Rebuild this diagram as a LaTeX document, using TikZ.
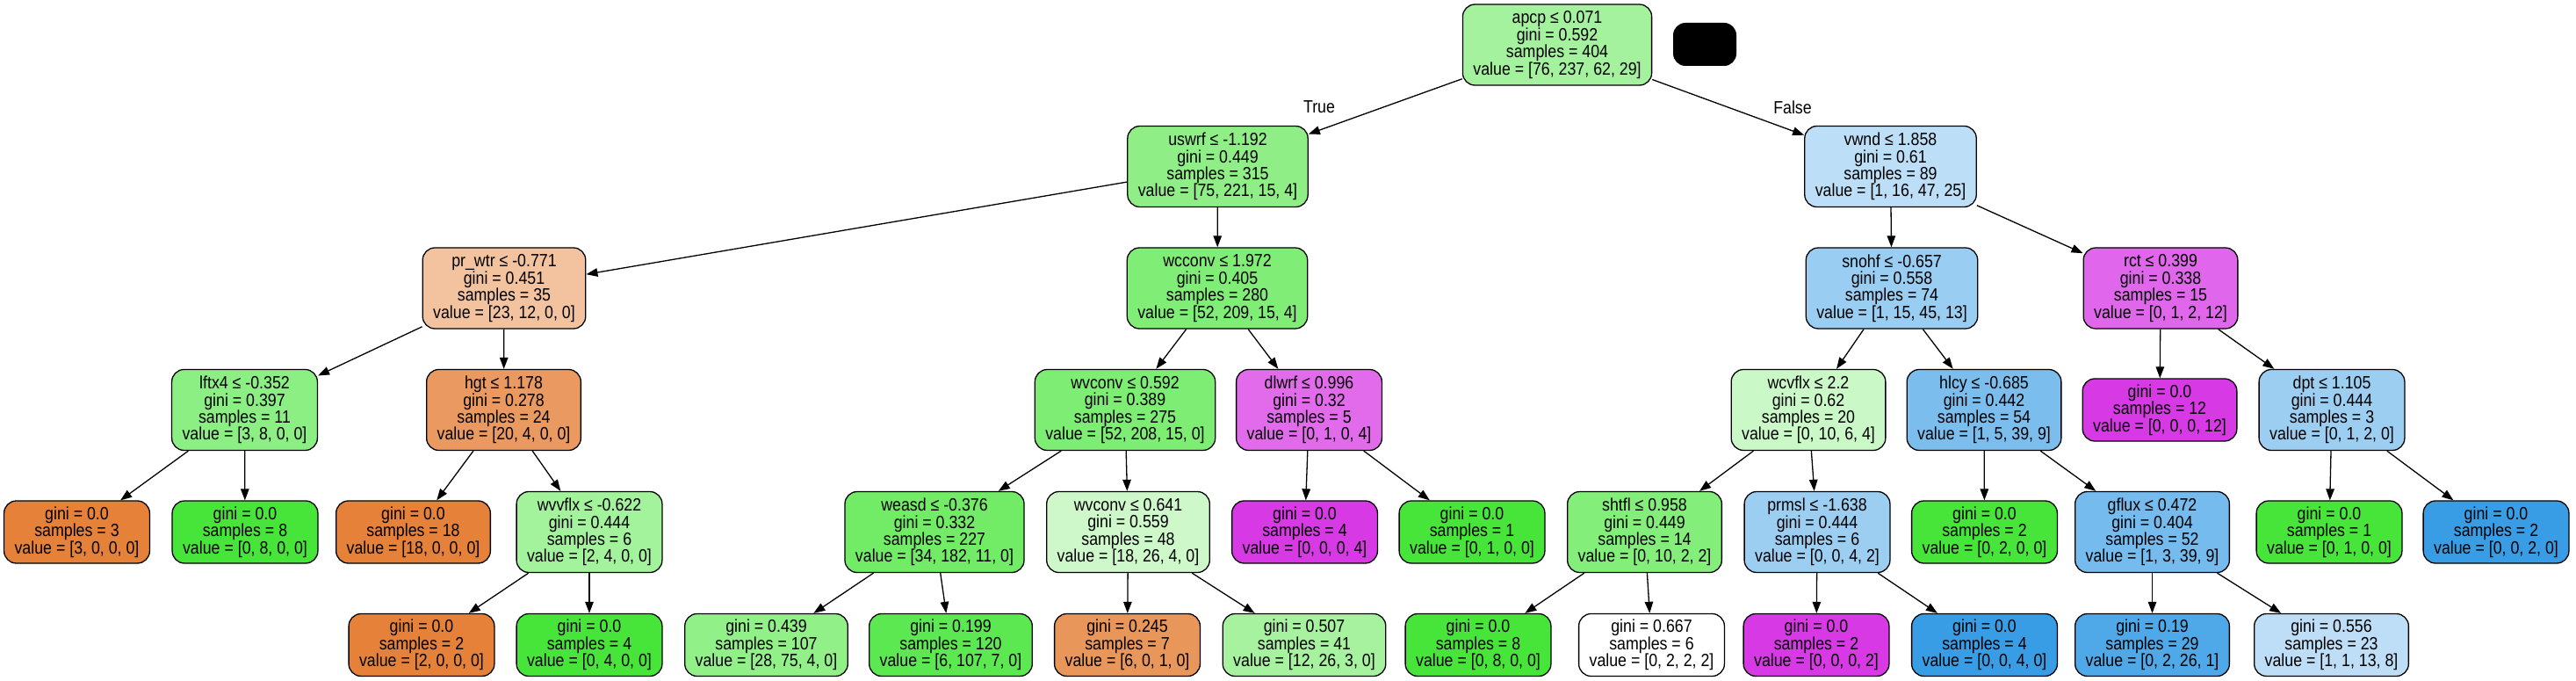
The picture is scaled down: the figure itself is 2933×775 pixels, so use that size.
\documentclass[tikz,border=0pt]{standalone}
\usepackage{fontspec}
\setmainfont{Liberation Sans}[FakeStretch=0.88]
\usetikzlibrary{arrows.meta}
\definecolor{cO}{RGB}{229,129,57}
\definecolor{cG}{RGB}{71,229,57}
\definecolor{cB}{RGB}{57,157,229}
\definecolor{cM}{RGB}{215,57,229}
\tikzset{
  tnode/.style={draw=black, line width=1.3pt, rounded corners=14pt, align=center,
    inner xsep=12pt, inner ysep=0pt, font=\fontsize{20.2}{19.4}\selectfont},
  four/.style={tnode, minimum height=92pt},
  three/.style={tnode, minimum height=71pt},
  edge/.style={line width=1.3pt, -{Triangle[length=13pt,width=9.5pt]}},
  elabel/.style={font=\fontsize{20.2}{19.4}\selectfont, inner sep=0pt},
}
\begin{document}
\begin{tikzpicture}[x=1pt,y=-1pt]
\useasboundingbox (0,0) rectangle (2933,775);
\fill[white] (0,0) rectangle (2933,775);
% level 0
\node[four, fill=cG!49] (n0) at (1773,51) {apcp ≤ 0.071\\gini = 0.592\\samples = 404\\value = [76, 237, 62, 29]};
\node[fill=black, rounded corners=14pt, minimum width=72pt, minimum height=49pt, inner sep=0pt] (legend) at (1941,50.5) {};
% level 1
\node[four, fill=cG!61] (n1) at (1386.5,189.5) {uswrf ≤ -1.192\\gini = 0.449\\samples = 315\\value = [75, 221, 15, 4]};
\node[four, fill=cB!34] (n2) at (2152.5,189.5) {vwnd ≤ 1.858\\gini = 0.61\\samples = 89\\value = [1, 16, 47, 25]};
% level 2
\node[four, fill=cO!48] (n3) at (574,328) {pr\_wtr ≤ -0.771\\gini = 0.451\\samples = 35\\value = [23, 12, 0, 0]};
\node[four, fill=cG!69] (n4) at (1386,328) {wcconv ≤ 1.972\\gini = 0.405\\samples = 280\\value = [52, 209, 15, 4]};
\node[four, fill=cB!51] (n5) at (2154,328) {snohf ≤ -0.657\\gini = 0.558\\samples = 74\\value = [1, 15, 45, 13]};
\node[four, fill=cM!77] (n6) at (2460,328) {rct ≤ 0.399\\gini = 0.338\\samples = 15\\value = [0, 1, 2, 12]};
% level 3
\node[four, fill=cG!62.5] (n7) at (278.5,466.5) {lftx4 ≤ -0.352\\gini = 0.397\\samples = 11\\value = [3, 8, 0, 0]};
\node[four, fill=cO!80] (n8) at (573.5,466.5) {hgt ≤ 1.178\\gini = 0.278\\samples = 24\\value = [20, 4, 0, 0]};
\node[four, fill=cG!70] (n9) at (1281,466.5) {wvconv ≤ 0.592\\gini = 0.389\\samples = 275\\value = [52, 208, 15, 0]};
\node[four, fill=cM!75] (n10) at (1490.5,466.5) {dlwrf ≤ 0.996\\gini = 0.32\\samples = 5\\value = [0, 1, 0, 4]};
\node[four, fill=cG!28.6] (n11) at (2059,466.5) {wcvflx ≤ 2.2\\gini = 0.62\\samples = 20\\value = [0, 10, 6, 4]};
\node[four, fill=cB!66.7] (n12) at (2259,466.5) {hlcy ≤ -0.685\\gini = 0.442\\samples = 54\\value = [1, 5, 39, 9]};
\node[three, fill=cM] (n13) at (2459,466.5) {gini = 0.0\\samples = 12\\value = [0, 0, 0, 12]};
\node[four, fill=cB!50] (n14) at (2655,466.5) {dpt ≤ 1.105\\gini = 0.444\\samples = 3\\value = [0, 1, 2, 0]};
% level 4
\node[three, fill=cO] (n15) at (87.5,605.5) {gini = 0.0\\samples = 3\\value = [3, 0, 0, 0]};
\node[three, fill=cG] (n16) at (279,605.5) {gini = 0.0\\samples = 8\\value = [0, 8, 0, 0]};
\node[three, fill=cO] (n17) at (470.5,605.5) {gini = 0.0\\samples = 18\\value = [18, 0, 0, 0]};
\node[four, fill=cG!50] (n18) at (671,605.5) {wvvflx ≤ -0.622\\gini = 0.444\\samples = 6\\value = [2, 4, 0, 0]};
\node[four, fill=cG!76.7] (n19) at (1064,605.5) {weasd ≤ -0.376\\gini = 0.332\\samples = 227\\value = [34, 182, 11, 0]};
\node[four, fill=cG!26.7] (n20) at (1284.5,605.5) {wvconv ≤ 0.641\\gini = 0.559\\samples = 48\\value = [18, 26, 4, 0]};
\node[three, fill=cM] (n21) at (1485.5,605.5) {gini = 0.0\\samples = 4\\value = [0, 0, 0, 4]};
\node[three, fill=cG] (n22) at (1676,605.5) {gini = 0.0\\samples = 1\\value = [0, 1, 0, 0]};
\node[four, fill=cG!66.7] (n23) at (1872.5,605.5) {shtfl ≤ 0.958\\gini = 0.449\\samples = 14\\value = [0, 10, 2, 2]};
\node[four, fill=cB!50] (n24) at (2069,605.5) {prmsl ≤ -1.638\\gini = 0.444\\samples = 6\\value = [0, 0, 4, 2]};
\node[three, fill=cG] (n25) at (2259.5,605.5) {gini = 0.0\\samples = 2\\value = [0, 2, 0, 0]};
\node[four, fill=cB!69.8] (n26) at (2450.5,605.5) {gflux ≤ 0.472\\gini = 0.404\\samples = 52\\value = [1, 3, 39, 9]};
\node[three, fill=cG] (n27) at (2652,605.5) {gini = 0.0\\samples = 1\\value = [0, 1, 0, 0]};
\node[three, fill=cB] (n28) at (2842,605.5) {gini = 0.0\\samples = 2\\value = [0, 0, 2, 0]};
% level 5
\node[three, fill=cO] (n29) at (480,734) {gini = 0.0\\samples = 2\\value = [2, 0, 0, 0]};
\node[three, fill=cG] (n30) at (671,734) {gini = 0.0\\samples = 4\\value = [0, 4, 0, 0]};
\node[three, fill=cG!59.5] (n31) at (872.5,734) {gini = 0.439\\samples = 107\\value = [28, 75, 4, 0]};
\node[three, fill=cG!88.5] (n32) at (1082.5,734) {gini = 0.199\\samples = 120\\value = [6, 107, 7, 0]};
\node[three, fill=cO!83.3] (n33) at (1283.5,734) {gini = 0.245\\samples = 7\\value = [6, 0, 1, 0]};
\node[three, fill=cG!48.3] (n34) at (1485,734) {gini = 0.507\\samples = 41\\value = [12, 26, 3, 0]};
\node[three, fill=cG] (n35) at (1683,734) {gini = 0.0\\samples = 8\\value = [0, 8, 0, 0]};
\node[three, fill=white] (n36) at (1880.5,734) {gini = 0.667\\samples = 6\\value = [0, 2, 2, 2]};
\node[three, fill=cM] (n37) at (2068,734) {gini = 0.0\\samples = 2\\value = [0, 0, 0, 2]};
\node[three, fill=cB] (n38) at (2259.5,734) {gini = 0.0\\samples = 4\\value = [0, 0, 4, 0]};
\node[three, fill=cB!88.9] (n39) at (2450.5,734) {gini = 0.19\\samples = 29\\value = [0, 2, 26, 1]};
\node[three, fill=cB!33.3] (n40) at (2654.5,734) {gini = 0.556\\samples = 23\\value = [1, 1, 13, 8]};
% edges
\draw[edge] (n0) -- (n1);
\draw[edge] (n0) -- (n2);
\node[elabel] (ltrue) at (1502,122) {True};
\node[elabel] (lfalse) at (2041,122) {False};
\foreach \p/\c in {1/3,1/4,2/5,2/6,3/7,3/8,4/9,4/10,5/11,5/12,6/13,6/14,
  7/15,7/16,8/17,8/18,9/19,9/20,10/21,10/22,11/23,11/24,12/25,12/26,14/27,14/28,
  18/29,18/30,19/31,19/32,20/33,20/34,23/35,23/36,24/37,24/38,26/39,26/40}
  \draw[edge] (n\p) -- (n\c);
\end{tikzpicture}
\end{document}
